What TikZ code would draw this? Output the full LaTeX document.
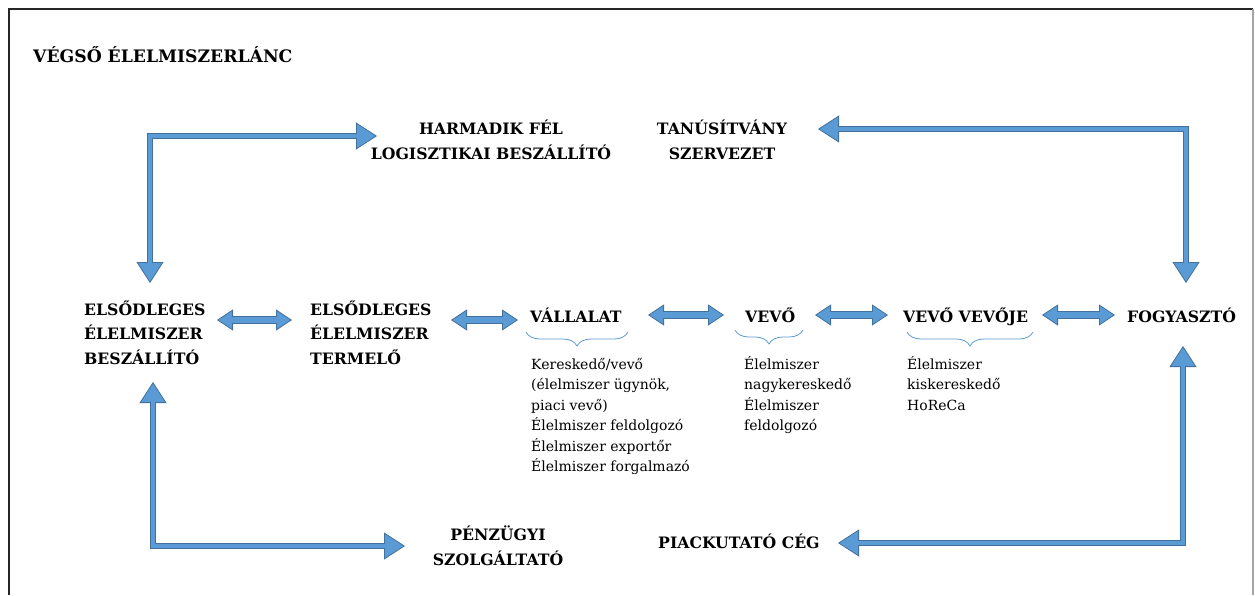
\documentclass[tikz,border=0pt]{standalone}
\usepackage{fontspec}
\setmainfont{DejaVu Serif}
\usetikzlibrary{arrows.meta,calc,decorations.pathreplacing}
\definecolor{afill}{HTML}{5B9BD5}
\definecolor{aline}{HTML}{41719C}
\definecolor{bracec}{HTML}{5B9BD5}
\begin{document}
\begin{tikzpicture}[x=1pt,y=-1pt,
  head/.style={inner sep=0pt, font=\bfseries\fontsize{15.7}{24.5}\selectfont},
  sub/.style={inner sep=0pt, align=left, anchor=base west, font=\fontsize{14}{20.5}\selectfont},
  bigarrow/.style={draw=aline, line width=6.5pt, line join=miter,
    arrows={Triangle[length=21pt,width=27pt,line width=0.8pt,fill=afill]-Triangle[length=21pt,width=27pt,line width=0.8pt,fill=afill]},
    postaction={draw=afill, line width=4.7pt, arrows=-, shorten <=20pt, shorten >=20pt}},
  dblarrow/.style={draw=aline, line width=7.5pt,
    arrows={Triangle[length=16pt,width=21pt,line width=0.8pt,fill=afill]-Triangle[length=16pt,width=21pt,line width=0.8pt,fill=afill]},
    postaction={draw=afill, line width=5.7pt, arrows=-, shorten <=15pt, shorten >=15pt}},
  grp/.style={draw=bracec, line width=0.8pt, decorate,
    decoration={brace, mirror, amplitude=14pt}}
]
\useasboundingbox (0,0) rectangle (1255,595);

% frame
\draw[line width=2pt, black!85] (9,595) -- (9,9) -- (1253,9);
\draw[line width=1.2pt, black!35] (1253,9) -- (1253,595);

% title
\node[head, anchor=base west] (title) at (33,62) {\fontsize{17.2}{21}\selectfont VÉGSŐ ÉLELMISZERLÁNC};

% service partners (multi-line nodes sit on the baseline of their last line)
\node[head, align=center, anchor=base] (harm) at (491,159) {HARMADIK FÉL\\LOGISZTIKAI BESZÁLLÍTÓ};
\node[head, align=center, anchor=base] (tan) at (722,159) {TANÚSÍTVÁNY\\SZERVEZET};
\node[head, align=center, anchor=base] (penz) at (498,565) {PÉNZÜGYI\\SZOLGÁLTATÓ};
\node[head, anchor=base west] (piac) at (658,548) {PIACKUTATÓ CÉG};

% chain members
\node[head, align=left, anchor=base west] (besz) at (84,364) {ELSŐDLEGES\\ÉLELMISZER\\BESZÁLLÍTÓ};
\node[head, align=left, anchor=base west] (term) at (310,364) {ELSŐDLEGES\\ÉLELMISZER\\TERMELŐ};
\node[head, anchor=base west] (vall) at (530,322) {VÁLLALAT};
\node[head, anchor=base west] (vevo) at (745,322) {VEVŐ};
\node[head, anchor=base west] (vvj) at (903,322) {VEVŐ VEVŐJE};
\node[head, anchor=base west] (fogy) at (1127,322) {FOGYASZTÓ};

% member descriptions
\node[sub] (vallt) at (531,471.5) {Kereskedő/vevő\\(élelmiszer ügynök,\\piaci vevő)\\Élelmiszer feldolgozó\\Élelmiszer exportőr\\Élelmiszer forgalmazó};
\node[sub] (vevot) at (744,430.5) {Élelmiszer\\nagykereskedő\\Élelmiszer\\feldolgozó};
\node[sub] (vvjt) at (907,410) {Élelmiszer\\kiskereskedő\\HoReCa};

% braces
\draw[grp] ($(vall.base west)+(-4,10)$) -- ($(vall.base west)+(98,10)$);
\draw[grp] ($(vevo.base west)+(-10,8)$) -- ($(vevo.base west)+(58,8)$);
\draw[grp] ($(vvj.base west)+(4,10)$) -- ($(vvj.base west)+(130,10)$);

% chain links
\draw[dblarrow] ($(besz.base west)+(133,-44)$) -- ($(term.base west)+(-18,-44)$);
\draw[dblarrow] ($(term.base west)+(141,-44)$) -- ($(vall.base west)+(-12,-2)$);
\draw[dblarrow] ($(vall.base west)+(118,-7)$) -- ($(vevo.base west)+(-21,-7)$);
\draw[dblarrow] ($(vevo.base west)+(70,-7)$) -- ($(vvj.base west)+(-15,-7)$);
\draw[dblarrow] ($(vvj.base west)+(139,-7)$) -- ($(fogy.base west)+(-12,-7)$);

% links to the partners
\draw[bigarrow] ($(besz.base west)+(66,-81)$) |- ($(harm.base)+(-114,-23)$);
\draw[bigarrow] ($(tan.base)+(96,-30)$) -| ($(fogy.base west)+(59,-39)$);
\draw[bigarrow] ($(besz.base west)+(69,18)$) |- ($(penz.base)+(-93,-19)$);
\draw[bigarrow] ($(fogy.base west)+(56,24)$) |- ($(piac.base west)+(180,-5)$);
\end{tikzpicture}
\end{document}
